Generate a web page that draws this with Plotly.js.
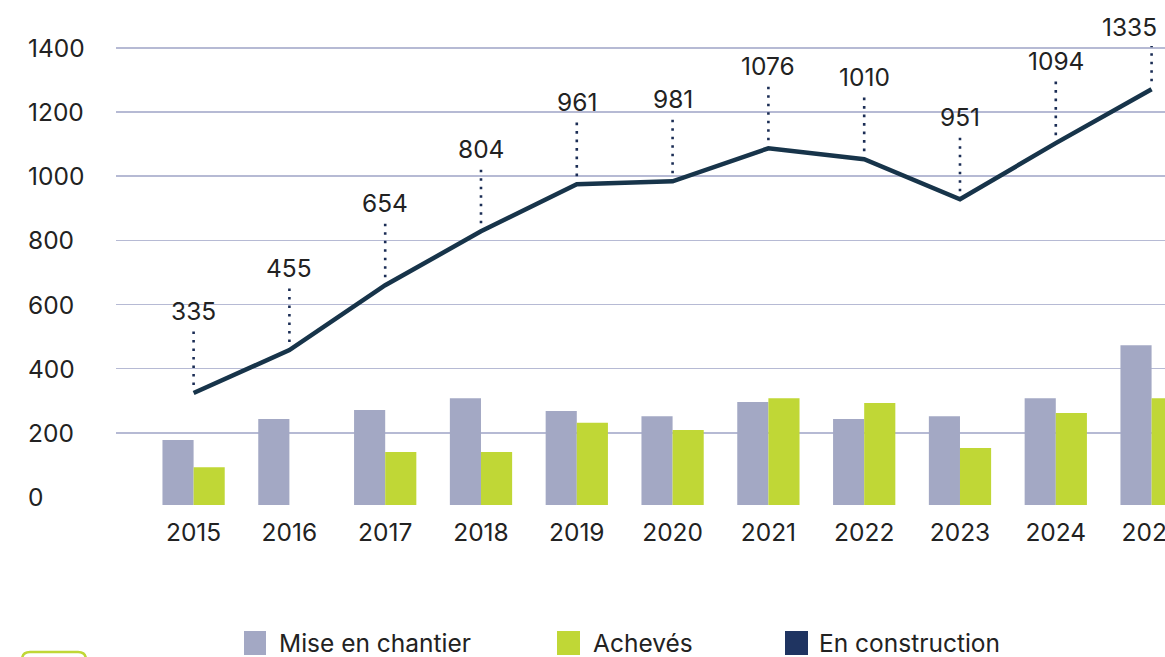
<!DOCTYPE html>
<html><head><meta charset="utf-8">
<script src="https://cdn.plot.ly/plotly-3.0.1.min.js"></script>
<style>html,body{margin:0;padding:0;background:#fff;overflow:hidden}#chart{width:1165px;height:657px}</style>
</head><body><div id="chart"></div>
<script>
// ---- data ----
const years = ['2015','2016','2017','2018','2019','2020','2021','2022','2023','2024','2025'];
const miseEnChantier = [178, 243, 271, 308, 268, 252, 296, 243, 252, 308, 473];
const acheves = [93, null, 140, 140, 231, 209, 308, 293, 153, 262, 308];
const enConstruction = [324, 458, 660, 828, 975, 984, 1087, 1053, 928, 1103, 1271];
const enConstructionLabels = ['335','455','654','804','961','981','1076','1010','951','1094','1335'];
const yTickValues = [0, 200, 400, 600, 800, 1000, 1200, 1400];
const yTickLabels = ['0','200','400','600','800','1000','1200','1400'];
const seriesNames = ['Mise en chantier', 'Achevés', 'En construction'];

// ---- styling ----
const FONT = 'Inter, "Noto Sans", sans-serif';
const FS = 24.5;
const TXT = '#222222';
const C_MISE = '#a3a8c4', C_ACH = '#c0d736', C_LINE = '#17344a', C_LEG3 = '#1f3461', C_DOT = '#1b2d55';
const BAR_FLOOR = -25, Y_MAX = 1518;

// plot area in pixels
const L = 116, T = 10, W = 1049, H = 495;
const px = p => (p - L) / W;
const py = p => (T + H - p) / H;
const valToPx = v => T + (Y_MAX - v) / (Y_MAX - BAR_FLOOR) * H;

const traces = [
  {type:'bar', name:seriesNames[0], x:years, y:miseEnChantier.map(v => v == null ? null : v - BAR_FLOOR),
   base:BAR_FLOOR, marker:{color:C_MISE, line:{width:0}}, hoverinfo:'skip'},
  {type:'bar', name:seriesNames[1], x:years, y:acheves.map(v => v == null ? null : v - BAR_FLOOR),
   base:BAR_FLOOR, marker:{color:C_ACH, line:{width:0}}, hoverinfo:'skip'},
  {type:'scatter', mode:'lines', name:seriesNames[2], x:years, y:enConstruction,
   line:{color:C_LINE, width:4.5}, hoverinfo:'skip'}
];

const shapes = [];
const annotations = [];

// dotted connectors + value labels (label lifted above the point, kept inside the page)
const LIFT = 82, LABEL_MIN_Y = 27;
years.forEach((yr, i) => {
  const lift = Math.min(LIFT, valToPx(enConstruction[i]) - LABEL_MIN_Y);
  shapes.push({type:'line', xref:'x', yref:'y', x0:i, x1:i, ysizemode:'pixel', yanchor:enConstruction[i],
    y0:8, y1:lift - 19, line:{color:C_DOT, width:2.6, dash:'2.6px,5.9px'}});
  const last = i === years.length - 1;
  annotations.push({xref:'x', yref:'y', x:i, y:enConstruction[i], yshift:lift, xshift: last ? 7 : 0,
    text:enConstructionLabels[i], showarrow:false, xanchor: last ? 'right' : 'center', yanchor:'middle',
    font:{family:FONT, size:FS, color:TXT}});
});

// left-aligned y tick labels
yTickValues.forEach((v, i) => {
  annotations.push({xref:'paper', yref:'y', x:px(26), y:v, text:yTickLabels[i], showarrow:false,
    xanchor:'left', yanchor:'middle', font:{family:FONT, size:FS, color:TXT}});
});

// legend
const legendItems = [
  {sq:[244, 266], tx:277, color:C_MISE},
  {sq:[557, 580], tx:591, color:C_ACH},
  {sq:[785, 808], tx:817, color:C_LEG3}
];
legendItems.forEach((it, i) => {
  shapes.push({type:'rect', xref:'paper', yref:'paper', x0:px(it.sq[0]), x1:px(it.sq[1]), y0:py(631), y1:py(655),
    fillcolor:it.color, line:{width:0}});
  annotations.push({xref:'paper', yref:'paper', x:px(it.tx), y:py(643), text:seriesNames[i], showarrow:false,
    xanchor:'left', yanchor:'middle', font:{family:FONT, size:FS, color:TXT}});
});

// decorative green frame partially visible at bottom-left
(function(){
  const x0 = px(22), x1 = px(86), yb = py(700), yt = py(652);
  const rx = 8 / W, ry = 8 / H;
  shapes.push({type:'path', xref:'paper', yref:'paper',
    path:`M${x0},${yb} L${x0},${yt - ry} Q${x0},${yt} ${x0 + rx},${yt} L${x1 - rx},${yt} Q${x1},${yt} ${x1},${yt - ry} L${x1},${yb}`,
    line:{color:C_ACH, width:2.5}});
})();

const layout = {
  width:1165, height:657,
  margin:{l:L, r:1165 - L - W, t:T, b:657 - T - H, pad:0},
  paper_bgcolor:'#ffffff', plot_bgcolor:'#ffffff',
  showlegend:false,
  barmode:'group', bargap:0.35, bargroupgap:0,
  font:{family:FONT, color:TXT},
  xaxis:{type:'category', range:[-0.81, 10.14], showgrid:false, zeroline:false, showline:false,
    ticks:'', ticklabelstandoff:10, tickfont:{family:FONT, size:FS, color:TXT}, fixedrange:true},
  yaxis:{range:[BAR_FLOOR, Y_MAX], tickvals:yTickValues.filter(v => v > 0), showticklabels:false,
    showgrid:true, gridcolor:'#b6bad4', gridwidth:1.5, zeroline:false, showline:false, ticks:'', fixedrange:true},
  shapes, annotations
};

Plotly.newPlot('chart', traces, layout, {displayModeBar:false, staticPlot:true});
</script></body></html>
